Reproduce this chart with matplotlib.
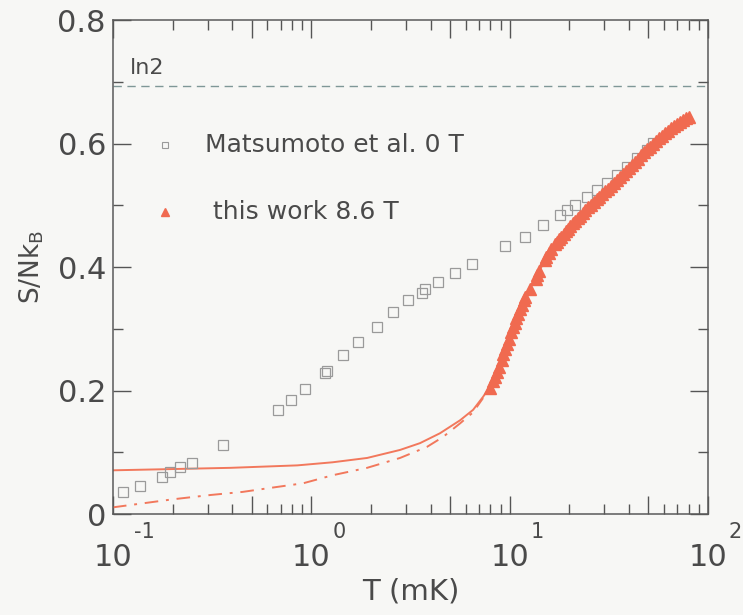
import numpy as np
import matplotlib
matplotlib.use("Agg")
import matplotlib.pyplot as plt
from matplotlib.ticker import LogLocator, FixedLocator, FuncFormatter, NullFormatter

# Matsumoto et al., 0 T (open squares)
mat_T = [0.112, 0.137, 0.177, 0.194, 0.218, 0.250, 0.359, 0.679, 0.791, 0.929,
         1.17, 1.20, 1.45, 1.72, 2.14, 2.58, 3.07, 3.61, 3.74, 4.35, 5.31, 6.46,
         9.5, 12.0, 14.7, 17.9, 19.5, 21.4, 24.6, 27.6, 31.0, 34.8, 39.1, 43.9,
         49.3, 52.8]
mat_S = [0.036, 0.045, 0.060, 0.068, 0.076, 0.083, 0.112, 0.169, 0.185, 0.203,
         0.229, 0.232, 0.258, 0.279, 0.303, 0.327, 0.347, 0.358, 0.365, 0.376,
         0.391, 0.405, 0.434, 0.449, 0.468, 0.485, 0.493, 0.501, 0.514, 0.525,
         0.536, 0.549, 0.562, 0.577, 0.590, 0.601]

# This work, 8.6 T (filled triangles)
tw_T = [8.0, 8.2, 8.4, 8.6, 8.8, 9.1, 9.3, 9.5, 9.7, 9.9, 10.2, 10.4, 10.6, 10.8,
        11.0, 11.3, 11.5, 11.8, 12.0, 12.6, 13.5, 13.8, 14.1, 15.0, 15.3, 15.7,
        16.1, 17.0, 17.4, 17.8, 18.2, 18.7, 19.2, 19.7, 20.2, 20.8, 21.4, 22.0,
        22.7, 23.4, 24.1, 24.9, 25.7, 26.5, 27.4, 28.3, 29.2, 30.2, 31.2, 32.3,
        33.4, 34.6, 35.8, 37.1, 38.4, 39.8, 41.2, 42.7, 44.2, 45.8, 47.4, 49.1,
        50.9, 52.7, 54.6, 56.6, 58.6, 60.7, 62.9, 65.2, 67.5, 69.9, 72.4, 75.0,
        77.7, 80.5]
tw_S = [0.205, 0.215, 0.222, 0.230, 0.238, 0.250, 0.260, 0.267, 0.276, 0.284,
        0.295, 0.303, 0.310, 0.318, 0.325, 0.333, 0.339, 0.347, 0.352, 0.364,
        0.381, 0.388, 0.394, 0.412, 0.417, 0.423, 0.429, 0.437, 0.441, 0.445,
        0.449, 0.454, 0.458, 0.462, 0.466, 0.471, 0.475, 0.479, 0.483, 0.488,
        0.492, 0.497, 0.501, 0.505, 0.510, 0.514, 0.518, 0.523, 0.527, 0.532,
        0.536, 0.541, 0.546, 0.551, 0.556, 0.561, 0.566, 0.571, 0.576, 0.581,
        0.586, 0.591, 0.595, 0.600, 0.604, 0.609, 0.613, 0.617, 0.621, 0.625,
        0.629, 0.632, 0.635, 0.638, 0.641, 0.644]

# Calculated entropy curves
fit_T = [0.1, 0.39, 0.85, 1.28, 1.91, 2.8, 3.53, 4.45, 5.62, 6.54, 7.34, 8.15,
         9.3, 10.4, 12.2, 15.1, 19.5, 25.0, 32.0, 40.0, 50.0, 65.0, 81.0]
fit_S = [0.071, 0.075, 0.079, 0.084, 0.091, 0.104, 0.115, 0.131, 0.152, 0.169,
         0.190, 0.212, 0.258, 0.300, 0.356, 0.412, 0.460, 0.498, 0.530, 0.562,
         0.594, 0.625, 0.645]
alt_T = [0.1, 0.2, 0.31, 0.45, 0.67, 0.91, 1.28, 1.91, 2.8, 3.83, 4.61, 5.62,
         6.54, 7.34]
alt_S = [0.011, 0.024, 0.031, 0.036, 0.044, 0.050, 0.063, 0.075, 0.091, 0.109,
         0.125, 0.147, 0.165, 0.188]

ln2 = np.log(2)

x_decades = [0.1, 1, 10, 100]
x_major = [0.1, 0.5, 1, 5, 10, 50, 100]
y_ticks = [0, 0.2, 0.4, 0.6, 0.8]

bg = "#f7f7f5"
red = "#f06a50"
line_red = "#f2785c"
ink = "#4a4a4a"

plt.rcParams["font.family"] = ["DejaVu Sans"]
plt.rcParams["mathtext.fontset"] = "dejavusans"

fig = plt.figure(figsize=(7.43, 6.15), dpi=100, facecolor=bg)
ax = fig.add_axes([0.152, 0.164, 0.801, 0.803], facecolor=bg)

ax.set_xscale("log")
ax.set_xlim(0.1, 100)
ax.set_ylim(0, 0.8)

ax.axhline(ln2, color="#7f9797", lw=1.0, dashes=(6, 4))
ax.plot(fit_T, fit_S, color=line_red, lw=1.4, zorder=2)
ax.plot(alt_T, alt_S, color=line_red, lw=1.4, dashes=(7, 4, 1.5, 4), zorder=2)
ax.plot(mat_T, mat_S, ls="none", marker="s", ms=7, mfc="none", mec="#9a9a9a",
        mew=0.9, zorder=3)
ax.plot(tw_T, tw_S, ls="none", marker="^", ms=8.5, color=red, mec=red, zorder=4)

ax.text(0.029, 0.723, "ln2", transform=ax.get_yaxis_transform(), fontsize=16,
        color=ink, va="center", ha="left")

# key
ax.plot([0.087], [0.747], transform=ax.transAxes, marker="s", ms=4, mfc="none",
        mec="#9a9a9a", mew=0.8, ls="none", clip_on=False)
ax.text(0.155, 0.747, "Matsumoto et al. 0 T", transform=ax.transAxes,
        fontsize=18, color=ink, va="center", ha="left")
ax.plot([0.087], [0.611], transform=ax.transAxes, marker="^", ms=6, color=red,
        ls="none", clip_on=False)
ax.text(0.168, 0.611, "this work 8.6 T", transform=ax.transAxes,
        fontsize=18, color=ink, va="center", ha="left")

# ticks: decades and halves long, other minors short
ax.xaxis.set_major_locator(FixedLocator(x_major))
ax.xaxis.set_major_formatter(NullFormatter())
ax.xaxis.set_minor_locator(LogLocator(base=10, subs=(2, 3, 4, 6, 7, 8, 9)))
ax.xaxis.set_minor_formatter(NullFormatter())
ax.yaxis.set_major_locator(FixedLocator(y_ticks))
ax.yaxis.set_major_formatter(FuncFormatter(lambda v, p: "0" if v == 0 else "%.1f" % v))
ax.yaxis.set_minor_locator(FixedLocator([0.1, 0.3, 0.5, 0.7]))

ax.tick_params(which="both", direction="in", top=True, right=True,
               colors="#555555", labelcolor=ink)
ax.tick_params(which="major", length=13, width=1.0, labelsize=22)
ax.tick_params(which="minor", length=7, width=1.0)
ax.tick_params(axis="y", which="major", pad=5)

# decade labels with raised exponents
for d in x_decades:
    e = int(round(np.log10(d)))
    ax.annotate("10", xy=(d, 0), xycoords=("data", "axes fraction"),
                xytext=(0, -31), textcoords="offset points", ha="center",
                va="center", fontsize=22, color=ink, annotation_clip=False)
    ax.annotate(str(e), xy=(d, 0), xycoords=("data", "axes fraction"),
                xytext=(15, -12.5), textcoords="offset points", ha="left",
                va="center", fontsize=15, color=ink, annotation_clip=False)

for s in ax.spines.values():
    s.set_color("#5a5a5a")
    s.set_linewidth(1.1)

ax.set_xlabel("T (mK)", fontsize=21, color=ink)
ax.xaxis.set_label_coords(0.5, -0.128)
ax.set_ylabel(r"S/Nk$_{\mathrm{B}}$", fontsize=19, color=ink, labelpad=8)

fig.savefig("out.png", dpi=100, facecolor=bg)
